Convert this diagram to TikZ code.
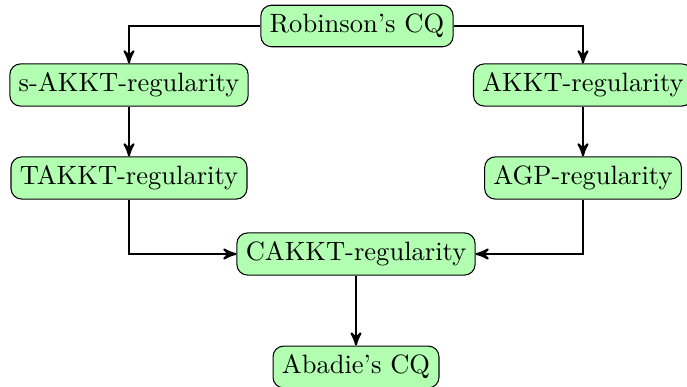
\documentclass[tikz,border=0pt]{standalone}
\usepackage{tikz}
\usetikzlibrary{arrows}

\begin{document}
\begin{tikzpicture}[x=0.377pt,y=-0.377pt,>=stealth',thick]
	\tikzstyle{cond}=[rectangle, rounded corners=4pt, draw=black, thin, fill=green!30]

	\useasboundingbox (0,0) rectangle (687,387);

	\node [cond] (rcq) at (357,26) {Robinson's CQ};
	\node [cond] (sakkt) at (129,85) {s-AKKT-regularity};
	\node [cond] (akkt) at (583,85) {AKKT-regularity};
	\node [cond] (takkt) at (129,178) {TAKKT-regularity};
	\node [cond] (agp) at (583,178) {AGP-regularity};
	\node [cond] (cakkt) at (356,254) {CAKKT-regularity};
	\node [cond] (acq) at (356,367) {Abadie's CQ};

	\draw [->] (rcq.west) -| (sakkt.north);
	\draw [->] (rcq.east) -| (akkt.north);
	\draw [->] (sakkt) -- (takkt);
	\draw [->] (akkt) -- (agp);
	\draw [->] (takkt.south) |- (cakkt.west);
	\draw [->] (agp.south) |- (cakkt.east);
	\draw [->] (cakkt) -- (acq);
\end{tikzpicture}
\end{document}
